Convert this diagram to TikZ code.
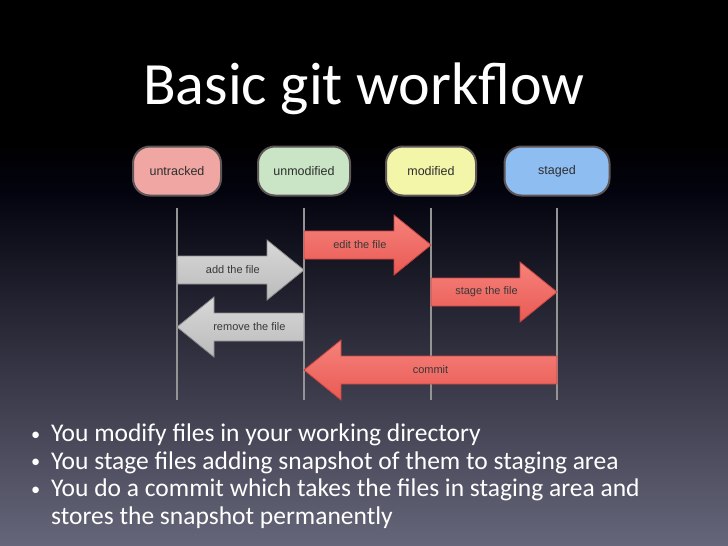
\documentclass[tikz,border=0pt]{standalone}
\usepackage{fontspec}
\setmainfont{Carlito}
\newfontfamily\boxfont{Liberation Sans}
\usetikzlibrary{calc}
\usetikzlibrary{positioning}

\definecolor{bgtop}{HTML}{03030E}
\definecolor{bgmid}{HTML}{22223D}
\definecolor{bgbot}{HTML}{66667A}
\definecolor{untrackedfill}{HTML}{F0A7A3}
\definecolor{unmodifiedfill}{HTML}{C9E5C5}
\definecolor{modifiedfill}{HTML}{F3F5A9}
\definecolor{stagedfill}{HTML}{8EBDF2}
\definecolor{statedraw}{HTML}{5E5656}
\definecolor{redtop}{HTML}{F5827B}
\definecolor{redbot}{HTML}{EA5A54}
\definecolor{reddraw}{HTML}{C9443F}
\definecolor{greytop}{HTML}{D8D8D8}
\definecolor{greybot}{HTML}{BBBBBB}
\definecolor{greydraw}{HTML}{8C8C8C}

% fat arrow between two lifelines: [label pos] tail node, tip node, y, style, name, label
\newcommand{\fatarrow}[7][0.44]{%
  \path (#2 |- 0,#4) coordinate (#6-tail) (#3 |- 0,#4) coordinate (#6-tip);
  \draw[#5] let \p1=(#6-tail), \p2=(#6-tip), \n1={sign(\x2-\x1)*37pt} in
    (\x1,\y1+14pt) -- (\x2-\n1,\y1+14pt) -- (\x2-\n1,\y1+30pt) -- (\x2,\y2)
    -- (\x2-\n1,\y1-30pt) -- (\x2-\n1,\y1-14pt) -- (\x1,\y1-14pt) -- cycle;
  \node[arrowlabel] (#6) at ($(#6-tail)!#1!(#6-tip)$) {#7};}
\newcommand{\slidebullet}{\makebox[20pt][l]{\raisebox{1.5pt}{\scalebox{0.72}{\textbullet}}}}

\begin{document}
\begin{tikzpicture}[x=1pt,y=-1pt]
            \tikzstyle{state}      = [draw=statedraw, line width=2pt, rounded corners=17pt, minimum height=49pt, inner sep=0pt, text=black!82, font=\boxfont\fontsize{12.5}{14}\selectfont]
            \tikzstyle{lifeline}   = [draw=black!42, line width=1.8pt]
            \tikzstyle{redarrow}   = [top color=redtop, bottom color=redbot, draw=reddraw, line width=0.8pt, line join=miter]
            \tikzstyle{greyarrow}  = [top color=greytop, bottom color=greybot, draw=greydraw, line width=0.8pt, line join=miter]
            \tikzstyle{arrowlabel} = [inner sep=0pt, text=black!78, font=\boxfont\fontsize{11}{13}\selectfont]

            \useasboundingbox (0,0) rectangle (728,546);

            % Slide background .........................
            \fill[black] (0,0) rectangle (728,142);
            \shade[top color=black, bottom color=bgtop] (0,140) rectangle (728,190);
            \shade[top color=bgtop, middle color=bgmid, bottom color=bgbot] (0,189) rectangle (728,546);

            \node[text=white, anchor=base, inner sep=0pt, font=\fontsize{60}{72}\selectfont] (title) at (364,104) {Basic git workflow};

            % States .........................
            \node[state, fill=untrackedfill,  minimum width=88pt]  (untracked)  at (177,171) {untracked};
            \node[state, fill=unmodifiedfill, minimum width=92pt]  (unmodified) at (304,171) {unmodified};
            \node[state, fill=modifiedfill,   minimum width=90pt]  (modified)   at (431,171) {modified};
            \node[state, fill=stagedfill,     minimum width=105pt] (staged)     at (557,171) {staged};

            \foreach \s in {untracked,unmodified,modified,staged}
                \draw[lifeline] ([yshift=-11pt]\s.south) -- (\s |- 0,400);

            % Transitions .........................
            \fatarrow{unmodified}{modified}{245}{redarrow}{edit}{edit the file}
            \fatarrow{untracked}{unmodified}{270}{greyarrow}{add}{add the file}
            \fatarrow{modified}{staged}{292}{redarrow}{stage}{stage the file}
            \fatarrow[0.43]{unmodified}{untracked}{327}{greyarrow}{remove}{remove the file}
            \fatarrow[0.5]{staged}{unmodified}{370}{redarrow}{commit}{commit}

            % Bullet points .........................
            \node[anchor=north west, align=left, inner sep=0pt, text=white, font=\fontsize{25.5}{27.5}\selectfont] (points) at (31,424)
                {\slidebullet You modify files in your working directory\\
                 \slidebullet You stage files adding snapshot of them to staging area\\
                 \slidebullet You do a commit which takes the files in staging area and\\
                 \hphantom{\slidebullet}stores the snapshot permanently};

        \end{tikzpicture}
\end{document}
